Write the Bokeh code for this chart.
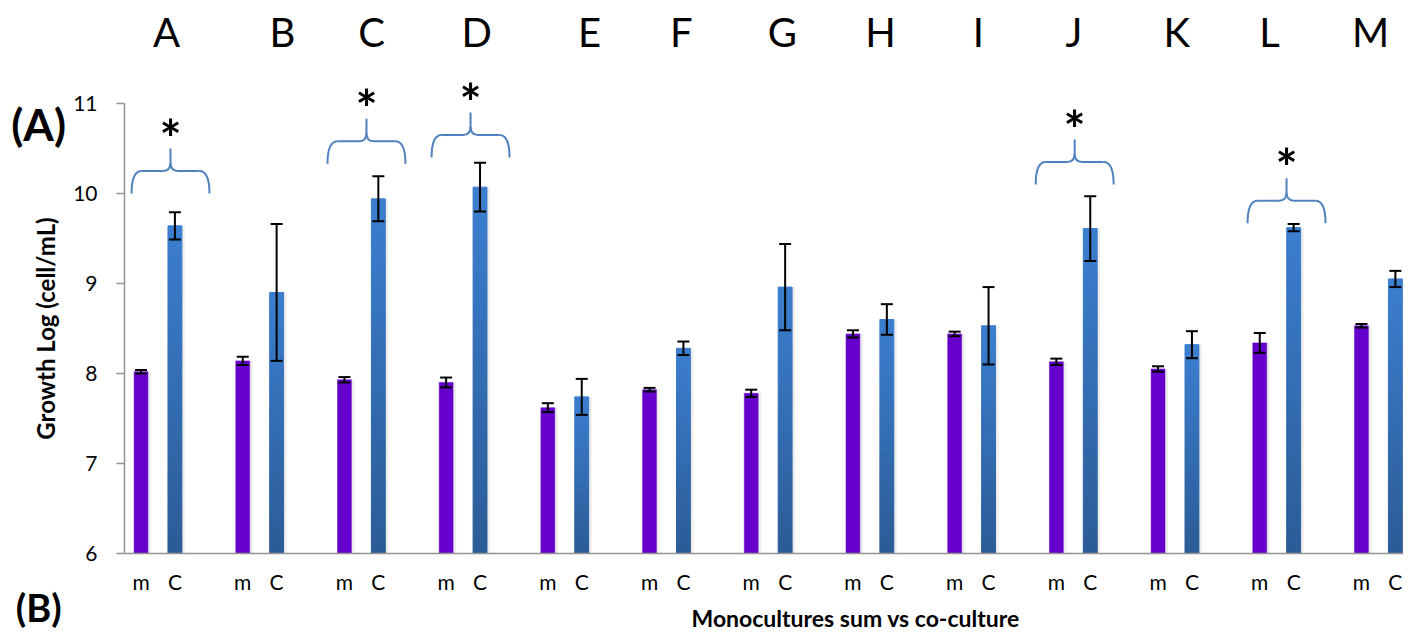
import numpy as np
from bokeh.plotting import figure
from bokeh.models import (ColumnDataSource, Range1d, FixedTicker, CustomJSTickFormatter,
                          Whisker, TeeHead, Label)
from bokeh.embed import file_html
from bokeh.resources import INLINE

# ---------------- data ----------------
groups = list("ABCDEFGHIJKLM")
mono = [8.02, 8.14, 7.93, 7.90, 7.62, 7.82, 7.78, 8.44, 8.44, 8.13, 8.05, 8.34, 8.53]
mono_err = [0.02, 0.045, 0.03, 0.055, 0.05, 0.02, 0.04, 0.04, 0.025, 0.035, 0.03, 0.11, 0.02]
co = [9.64, 8.90, 9.94, 10.07, 7.74, 8.28, 8.96, 8.60, 8.53, 9.61, 8.32, 9.62, 9.05]
co_err = [0.15, 0.76, 0.25, 0.27, 0.20, 0.075, 0.48, 0.17, 0.43, 0.36, 0.15, 0.04, 0.09]
bar_labels = ["m", "C"]
y_ticks = [6, 7, 8, 9, 10, 11]
sig_groups = ["A", "C", "D", "J", "L"]
brace_base = [10.0, 10.33, 10.40, 10.10, 9.67]

# ---------------- layout (styles / positions) ----------------
PITCH = 3
BAR_W = 0.41
X0 = -0.487          # left end of the value axis (x data)
letter_nudge = [0.25, 0.67, 0.30, 0.40, 0.73, 0.44, 0.42, 0.31, 0.20, 0.02, 0.05, -0.21, -0.23]
brace_nudge = {"A": 0.37, "C": 0.15, "D": 0.22, "J": 0.04, "L": 0.29}
PURPLE = "#6600CC"
C_TOP = np.array([60, 127, 208])
C_BOT = np.array([44, 92, 150])
BRACE = "#4F81BD"
AXIS_COL = "#939393"
FONT = "Lato"

m_x = [PITCH * i for i in range(len(groups))]
c_x = [PITCH * i + 1 for i in range(len(groups))]
centers = [PITCH * i + 0.5 for i in range(len(groups))]

p = figure(width=1403, height=634, x_range=Range1d(-4.145, 37.24), y_range=Range1d(5.1, 12.144),
           output_backend="svg", toolbar_location=None,
           min_border_left=0, min_border_right=0, min_border_top=0, min_border_bottom=0)
p.outline_line_color = None
p.xgrid.visible = False
p.ygrid.visible = False

# shadows
p.vbar(x=[x + 0.06 for x in m_x + c_x], top=mono + co, bottom=6, width=BAR_W + 0.06,
       fill_color="#000000", fill_alpha=0.07, line_color=None)

# mono bars
p.vbar(x=m_x, top=mono, bottom=6, width=BAR_W, fill_color=PURPLE, line_color=PURPLE, line_width=0.5)

# co-culture bars with vertical gradient
N = 60
gx, gb, gt, gc = [], [], [], []
for x, v in zip(c_x, co):
    for k in range(N):
        f = (k + 0.5) / N
        col = (C_BOT + (C_TOP - C_BOT) * f).astype(int)
        gx.append(x)
        gb.append(6 + (v - 6) * k / N)
        gt.append(6 + (v - 6) * (k + 1) / N)
        gc.append("#%02x%02x%02x" % tuple(col))
p.vbar(x=gx, top=gt, bottom=gb, width=BAR_W, fill_color=gc, line_color=gc, line_width=1)

# error bars
err_src = ColumnDataSource(dict(
    x=m_x + c_x,
    upper=[v + e for v, e in zip(mono, mono_err)] + [v + e for v, e in zip(co, co_err)],
    lower=[v - e for v, e in zip(mono, mono_err)] + [v - e for v, e in zip(co, co_err)],
))
w = Whisker(source=err_src, base="x", upper="upper", lower="lower", line_color="black", line_width=2,
            upper_head=TeeHead(size=12, line_color="black", line_width=2),
            lower_head=TeeHead(size=12, line_color="black", line_width=2), level="annotation")
p.add_layout(w)

# braces + asterisks
qx0, qy0, qx1, qy1, qcx, qcy = [], [], [], [], [], []
sx0, sy0, sx1, sy1 = [], [], [], []
for g, base in zip(sig_groups, brace_base):
    i = groups.index(g)
    xc = centers[i] + brace_nudge[g]
    y0, y1, y2 = base, base + 0.25, base + 0.5
    for s in (-1, 1):
        xe = xc + s * 1.15
        qx0.append(xe); qy0.append(y0); qx1.append(xe - s * 0.3); qy1.append(y1); qcx.append(xe); qcy.append(y1)
        sx0.append(xe - s * 0.3); sy0.append(y1); sx1.append(xc + s * 0.22); sy1.append(y1)
        qx0.append(xc + s * 0.22); qy0.append(y1); qx1.append(xc); qy1.append(y1 + 0.09); qcx.append(xc); qcy.append(y1)
    sx0.append(xc); sy0.append(y1 + 0.09); sx1.append(xc); sy1.append(y2)
    p.add_layout(Label(x=xc, y=y2 + 0.12, text="*", text_font=FONT, text_font_style="bold",
                       text_font_size="52px", text_align="center", text_baseline="middle",
                       text_color="black"))
p.quadratic(x0=qx0, y0=qy0, x1=qx1, y1=qy1, cx=qcx, cy=qcy, line_color=BRACE, line_width=2)
p.segment(x0=sx0, y0=sy0, x1=sx1, y1=sy1, line_color=BRACE, line_width=2)

# axes
yax = p.yaxis[0]
yax.fixed_location = X0
yax.bounds = (6, 11)
yax.ticker = FixedTicker(ticks=y_ticks)
yax.major_label_text_font = FONT
yax.major_label_text_font_size = "21px"
yax.major_label_text_color = "black"
yax.major_tick_out = 8
yax.major_tick_in = 0
yax.minor_tick_line_color = None
yax.axis_line_color = AXIS_COL
yax.axis_line_width = 1.5
yax.major_tick_line_color = AXIS_COL
yax.major_tick_line_width = 1.5
yax.major_label_standoff = 19
yax.axis_label = "Growth Log (cell/mL)"
yax.axis_label_text_font = FONT
yax.axis_label_text_font_style = "bold"
yax.axis_label_text_font_size = "24px"
yax.axis_label_text_color = "black"
yax.axis_label_standoff = 10

xax = p.xaxis[0]
xax.fixed_location = 6
xax.bounds = (X0, 37.24)
xax.ticker = FixedTicker(ticks=sorted(m_x + c_x))
xax.formatter = CustomJSTickFormatter(args=dict(labels=bar_labels),
                                      code="return labels[Math.round(tick) % 3];")
xax.major_label_text_font = FONT
xax.major_label_text_font_size = "21px"
xax.major_label_text_color = "black"
xax.major_tick_out = 0
xax.major_tick_in = 0
xax.minor_tick_line_color = None
xax.axis_line_color = AXIS_COL
xax.axis_line_width = 1.5
xax.major_label_standoff = 16

# group letters on top
for c, xg, nd in zip(groups, centers, letter_nudge):
    p.add_layout(Label(x=xg + nd, y=11.79, text=c, text_font=FONT, text_font_size="40px",
                       text_align="center", text_baseline="middle", text_color="black"))

p.add_layout(Label(x=-3.02, y=10.77, text="(A)", text_font=FONT, text_font_style="bold",
                   text_font_size="44px", text_align="center", text_baseline="middle", text_color="black"))
p.add_layout(Label(x=-3.02, y=5.41, text="(B)", text_font=FONT, text_font_style="bold",
                   text_font_size="38px", text_align="center", text_baseline="middle", text_color="black"))
p.add_layout(Label(x=21.08, y=5.28, text="Monocultures sum vs co-culture", text_font=FONT,
                   text_font_style="bold", text_font_size="23px", text_align="center",
                   text_baseline="middle", text_color="black"))

open("out.html", "w").write(file_html(p, INLINE))
